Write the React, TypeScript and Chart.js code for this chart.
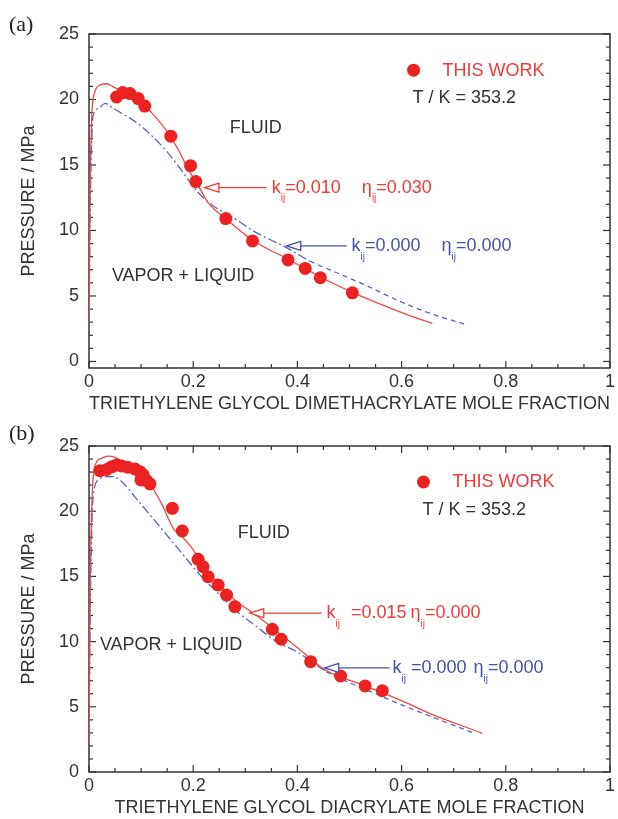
import React, { useEffect, useRef } from "react";
import { Chart, registerables } from "chart.js";

Chart.register(...registerables);

const FONT = "'Liberation Sans', Arial, Helvetica, sans-serif";
const SERIF = "'Liberation Serif', 'Times New Roman', serif";
const DARK = "#333333";
const RED = "#ec2222";
const RED_TEXT = "#f03a3a";
const RED_LINE = "#f04848";
const BLUE = "#4452a6";
const BLUE_LINE = "#5867bb";

// ---------- axis ticks ----------
const xTickValues = [0, 0.2, 0.4, 0.6, 0.8, 1];
const xTickLabels = ["0", "0.2", "0.4", "0.6", "0.8", "1"];
const yTickValues = [0, 5, 10, 15, 20, 25];
const yTickLabels = ["0", "5", "10", "15", "20", "25"];

// ---------- panel (a): triethylene glycol dimethacrylate ----------
const aExpX = [0.053, 0.0646, 0.0786, 0.0945, 0.107, 0.157, 0.195, 0.205, 0.2626, 0.3138, 0.382, 0.415, 0.444, 0.5055];
const aExpP = [20.19, 20.53, 20.45, 20.07, 19.5, 17.2, 14.95, 13.73, 10.91, 9.2, 7.75, 7.1, 6.39, 5.24];

const aRedX = [0.0, 0.001, 0.002, 0.004, 0.006, 0.0115, 0.0211, 0.034, 0.047, 0.07, 0.101, 0.12, 0.146, 0.171, 0.19, 0.21, 0.229, 0.2626, 0.314, 0.38, 0.415, 0.444, 0.5055, 0.564, 0.609, 0.659];
const aRedP = [2.8, 8, 13, 17, 19.3, 20.6, 21.1, 21.2, 20.96, 20.45, 19.8, 19.0, 17.77, 16.2, 14.7, 13.4, 12.1, 10.9, 9.25, 7.85, 7.1, 6.45, 5.28, 4.3, 3.6, 2.9];

const aBlueX = [0.0, 0.002, 0.004, 0.008, 0.018, 0.031, 0.0435, 0.069, 0.0945, 0.12, 0.1457, 0.171, 0.19, 0.2095, 0.238, 0.2766, 0.315, 0.379, 0.4236, 0.468, 0.532, 0.596, 0.66, 0.7207];
const aBlueP = [2.8, 10, 15, 18.8, 19.3, 19.7, 19.4, 18.8, 18.15, 17.25, 16.2, 14.95, 13.9, 12.9, 11.89, 10.99, 9.97, 8.69, 7.67, 6.9, 5.8, 4.6, 3.6, 2.86];

// ---------- panel (b): triethylene glycol diacrylate ----------
const bExpX = [0.021, 0.034, 0.0435, 0.053, 0.0627, 0.074, 0.088, 0.0978, 0.104, 0.0997, 0.1106, 0.117, 0.16, 0.179, 0.2095, 0.219, 0.2287, 0.248, 0.264, 0.28, 0.352, 0.369, 0.4255, 0.483, 0.53, 0.563];
const bExpP = [23.1, 23.2, 23.4, 23.54, 23.47, 23.37, 23.24, 23.03, 22.78, 22.4, 22.34, 22.09, 20.22, 18.48, 16.31, 15.74, 14.98, 14.34, 13.57, 12.68, 10.94, 10.18, 8.46, 7.36, 6.6, 6.23];

const bRedX = [0.0, 0.001, 0.002, 0.005, 0.0115, 0.024, 0.037, 0.05, 0.075, 0.101, 0.12, 0.139, 0.163, 0.175, 0.197, 0.216, 0.248, 0.28, 0.3215, 0.398, 0.4536, 0.526, 0.59, 0.6536, 0.7547];
const bRedP = [2.2, 8, 13, 20, 23.5, 24.05, 24.23, 24.13, 23.5, 22.8, 21.9, 20.6, 18.6, 18.2, 17.2, 16.0, 14.47, 13.19, 12.0, 9.6, 7.82, 6.67, 5.65, 4.5, 2.97];

const bBlueX = [0.0, 0.001, 0.003, 0.008, 0.018, 0.031, 0.047, 0.063, 0.088, 0.12, 0.152, 0.184, 0.216, 0.248, 0.28, 0.32, 0.36, 0.4, 0.4556, 0.5, 0.553, 0.6, 0.6536, 0.692, 0.74];
const bBlueP = [2.2, 7, 14, 21.1, 22.4, 22.65, 22.65, 22.26, 21.1, 19.58, 18.04, 16.5, 14.98, 13.7, 12.45, 11.2, 10.0, 9.2, 7.7, 6.85, 5.95, 5.15, 4.3, 3.7, 2.97];

type Part = { t: string; sub?: boolean; gap?: number };
type TextItem = { x: number; y: number; text: string; color: string };
type ArrowItem = { tipX: number; endX: number; y: number; labelX: number; color: string; parts: Part[] };

interface PanelCfg {
  tag: string;
  tagY: number;
  xTitle: string;
  yMin: number;
  topTicks: boolean;
  padTop: number;
  height: number;
  expX: number[]; expP: number[];
  redX: number[]; redP: number[];
  blueX: number[]; blueP: number[];
  blueDashFrom: number;
  texts: TextItem[];
  legend: { x: number; y: number };
  arrows: ArrowItem[];
}

const panelA: PanelCfg = {
  tag: "(a)", tagY: 25,
  xTitle: "TRIETHYLENE GLYCOL DIMETHACRYLATE MOLE FRACTION",
  yMin: -0.5, topTicks: false, padTop: 34, height: 415,
  expX: aExpX, expP: aExpP, redX: aRedX, redP: aRedP, blueX: aBlueX, blueP: aBlueP,
  blueDashFrom: 0.38,
  texts: [
    { x: 0.27, y: 17.8, text: "FLUID", color: DARK },
    { x: 0.044, y: 6.52, text: "VAPOR + LIQUID", color: DARK },
    { x: 0.6786, y: 22.2, text: "THIS WORK", color: RED_TEXT },
    { x: 0.621, y: 20.1, text: "T / K = 353.2", color: DARK },
  ],
  legend: { x: 0.623, y: 22.24 },
  arrows: [
    { tipX: 0.2224, endX: 0.341, y: 13.27, labelX: 0.351, color: RED_TEXT,
      parts: [{ t: "k" }, { t: "ij", sub: true }, { t: "=0.010" }, { t: "η", gap: 21 }, { t: "ij", sub: true }, { t: "=0.030" }] },
    { tipX: 0.3795, endX: 0.4945, y: 8.82, labelX: 0.504, color: BLUE,
      parts: [{ t: "k" }, { t: "ij", sub: true }, { t: "=0.000" }, { t: "η", gap: 21 }, { t: "ij", sub: true }, { t: "=0.000" }] },
  ],
};

const panelB: PanelCfg = {
  tag: "(b)", tagY: 19,
  xTitle: "TRIETHYLENE GLYCOL DIACRYLATE MOLE FRACTION",
  yMin: 0, topTicks: true, padTop: 31, height: 404,
  expX: bExpX, expP: bExpP, redX: bRedX, redP: bRedP, blueX: bBlueX, blueP: bBlueP,
  blueDashFrom: 0.45,
  texts: [
    { x: 0.2856, y: 18.33, text: "FLUID", color: DARK },
    { x: 0.021, y: 9.74, text: "VAPOR + LIQUID", color: DARK },
    { x: 0.6977, y: 22.24, text: "THIS WORK", color: RED_TEXT },
    { x: 0.64, y: 20.1, text: "T / K = 353.2", color: DARK },
  ],
  legend: { x: 0.642, y: 22.24 },
  arrows: [
    { tipX: 0.3086, endX: 0.4466, y: 12.19, labelX: 0.456, color: RED_TEXT,
      parts: [{ t: "k" }, { t: "ij", sub: true }, { t: "=0.015", gap: 11 }, { t: "η", gap: 4 }, { t: "ij", sub: true }, { t: "=0.000" }] },
    { tipX: 0.4524, endX: 0.577, y: 7.98, labelX: 0.5827, color: BLUE,
      parts: [{ t: "k" }, { t: "ij", sub: true }, { t: "=0.000", gap: 5 }, { t: "η", gap: 7 }, { t: "ij", sub: true }, { t: "=0.000" }] },
  ],
};

function pts(xs: number[], ys: number[]) {
  return xs.map((x, i) => ({ x, y: ys[i] }));
}

function makeDecor(cfg: PanelCfg) {
  const seg = (ctx: CanvasRenderingContext2D, x1: number, y1: number, x2: number, y2: number) => {
    ctx.beginPath();
    ctx.moveTo(x1, y1);
    ctx.lineTo(x2, y2);
    ctx.stroke();
  };
  return {
    id: "decor",
    beforeDatasetsDraw(chart: any) {
      const { ctx, chartArea: a, scales } = chart;
      const xs = scales.x, ys = scales.y;
      ctx.save();
      ctx.strokeStyle = DARK;
      ctx.lineWidth = 1.5;
      ctx.strokeRect(a.left, a.top, a.right - a.left, a.bottom - a.top);
      ctx.lineWidth = 1.2;
      for (let i = 0; i <= 20; i++) {
        const v = i * 0.05;
        const len = i % 4 === 0 ? 7 : 4;
        const px = xs.getPixelForValue(v);
        seg(ctx, px, a.bottom, px, a.bottom - len);
        if (cfg.topTicks) seg(ctx, px, a.top, px, a.top + len);
      }
      for (let v = 0; v <= 25; v++) {
        const len = v % 5 === 0 ? 7 : 4;
        const py = ys.getPixelForValue(v);
        seg(ctx, a.left, py, a.left + len, py);
        seg(ctx, a.right, py, a.right - len, py);
      }
      ctx.restore();
    },
    afterDatasetsDraw(chart: any) {
      const { ctx, scales } = chart;
      const xs = scales.x, ys = scales.y;
      ctx.save();
      ctx.textBaseline = "middle";
      ctx.textAlign = "left";
      ctx.font = `18px ${FONT}`;
      for (const t of cfg.texts) {
        ctx.fillStyle = t.color;
        ctx.fillText(t.text, xs.getPixelForValue(t.x), ys.getPixelForValue(t.y));
      }
      // legend marker
      ctx.fillStyle = RED;
      ctx.beginPath();
      ctx.arc(xs.getPixelForValue(cfg.legend.x), ys.getPixelForValue(cfg.legend.y), 6.5, 0, Math.PI * 2);
      ctx.fill();
      // arrows with labels
      for (const ar of cfg.arrows) {
        const tip = xs.getPixelForValue(ar.tipX);
        const end = xs.getPixelForValue(ar.endX);
        const py = ys.getPixelForValue(ar.y);
        ctx.strokeStyle = ar.color;
        ctx.lineWidth = 1.3;
        seg(ctx, tip + 14, py, end, py);
        ctx.beginPath();
        ctx.moveTo(tip, py);
        ctx.lineTo(tip + 14, py - 4.5);
        ctx.lineTo(tip + 14, py + 4.5);
        ctx.closePath();
        ctx.fillStyle = "#ffffff";
        ctx.fill();
        ctx.stroke();
        ctx.fillStyle = ar.color;
        let cx = xs.getPixelForValue(ar.labelX);
        for (const p of ar.parts) {
          cx += p.gap || 0;
          ctx.font = p.sub ? `10px ${FONT}` : `18px ${FONT}`;
          ctx.fillText(p.t, cx, p.sub ? py + 11 : py);
          cx += ctx.measureText(p.t).width;
        }
      }
      ctx.restore();
    },
    afterDraw(chart: any) {
      const { ctx } = chart;
      ctx.save();
      ctx.font = `22px ${SERIF}`;
      ctx.fillStyle = "#222222";
      ctx.textBaseline = "middle";
      ctx.textAlign = "left";
      ctx.fillText(cfg.tag, 9, cfg.tagY);
      ctx.restore();
    },
  };
}

function Panel({ cfg, top }: { cfg: PanelCfg; top: number }) {
  const ref = useRef<HTMLCanvasElement>(null);
  useEffect(() => {
    if (!ref.current) return;
    const chart = new Chart(ref.current, {
      type: "scatter",
      data: {
        datasets: [
          {
            label: "THIS WORK",
            data: pts(cfg.expX, cfg.expP),
            showLine: false,
            pointRadius: 6.5,
            pointBorderWidth: 0,
            pointBackgroundColor: RED,
            backgroundColor: RED,
          } as any,
          {
            label: "red model",
            data: pts(cfg.redX, cfg.redP),
            showLine: true,
            pointRadius: 0,
            borderColor: RED_LINE,
            borderWidth: 1.3,
            cubicInterpolationMode: "monotone",
          },
          {
            label: "blue model",
            data: pts(cfg.blueX, cfg.blueP),
            showLine: true,
            pointRadius: 0,
            borderColor: BLUE_LINE,
            borderWidth: 1.3,
            cubicInterpolationMode: "monotone",
            segment: {
              borderDash: (c: any) => (c.p0.parsed.x >= cfg.blueDashFrom ? [5, 4] : [9, 3, 2, 3]),
            },
          },
        ],
      },
      options: {
        animation: false,
        responsive: false,
        devicePixelRatio: 1,
        events: [],
        layout: { padding: { top: cfg.padTop, right: 7, left: 0, bottom: 0 } },
        plugins: { legend: { display: false }, tooltip: { enabled: false } },
        scales: {
          x: {
            type: "linear",
            min: 0,
            max: 1,
            afterBuildTicks: (s: any) => {
              s.ticks = xTickValues.map((v) => ({ value: v }));
            },
            afterFit: (s: any) => {
              s.height = 47;
            },
            ticks: {
              callback: (_v: any, i: number) => xTickLabels[i],
              font: { size: 18, family: FONT },
              color: DARK,
              padding: 3,
              maxRotation: 0,
              autoSkip: false,
            },
            grid: { display: false, drawTicks: false },
            border: { display: false },
            title: {
              display: true,
              text: cfg.xTitle,
              font: { size: 18, family: FONT },
              color: DARK,
              padding: { top: 0, bottom: 0 },
            },
          },
          y: {
            type: "linear",
            min: cfg.yMin,
            max: 25,
            afterBuildTicks: (s: any) => {
              s.ticks = yTickValues.map((v) => ({ value: v }));
            },
            afterFit: (s: any) => {
              s.width = 89;
            },
            ticks: {
              callback: (_v: any, i: number) => yTickLabels[i],
              font: { size: 18, family: FONT },
              color: DARK,
              padding: 10,
            },
            grid: { display: false, drawTicks: false },
            border: { display: false },
            title: {
              display: true,
              text: "PRESSURE / MPa",
              font: { size: 18, family: FONT },
              color: DARK,
              padding: { top: 18, bottom: 0 },
            },
          },
        },
      } as any,
      plugins: [makeDecor(cfg)],
    });
    return () => chart.destroy();
  }, [cfg]);
  return (
    <canvas
      ref={ref}
      width={618}
      height={cfg.height}
      style={{ position: "absolute", left: 0, top, width: 618, height: cfg.height, display: "block" }}
    />
  );
}

export default function App() {
  return (
    <div style={{ position: "absolute", left: 0, top: 0, width: 618, height: 819, background: "#ffffff", overflow: "hidden" }}>
      <Panel cfg={panelA} top={0} />
      <Panel cfg={panelB} top={415} />
    </div>
  );
}
